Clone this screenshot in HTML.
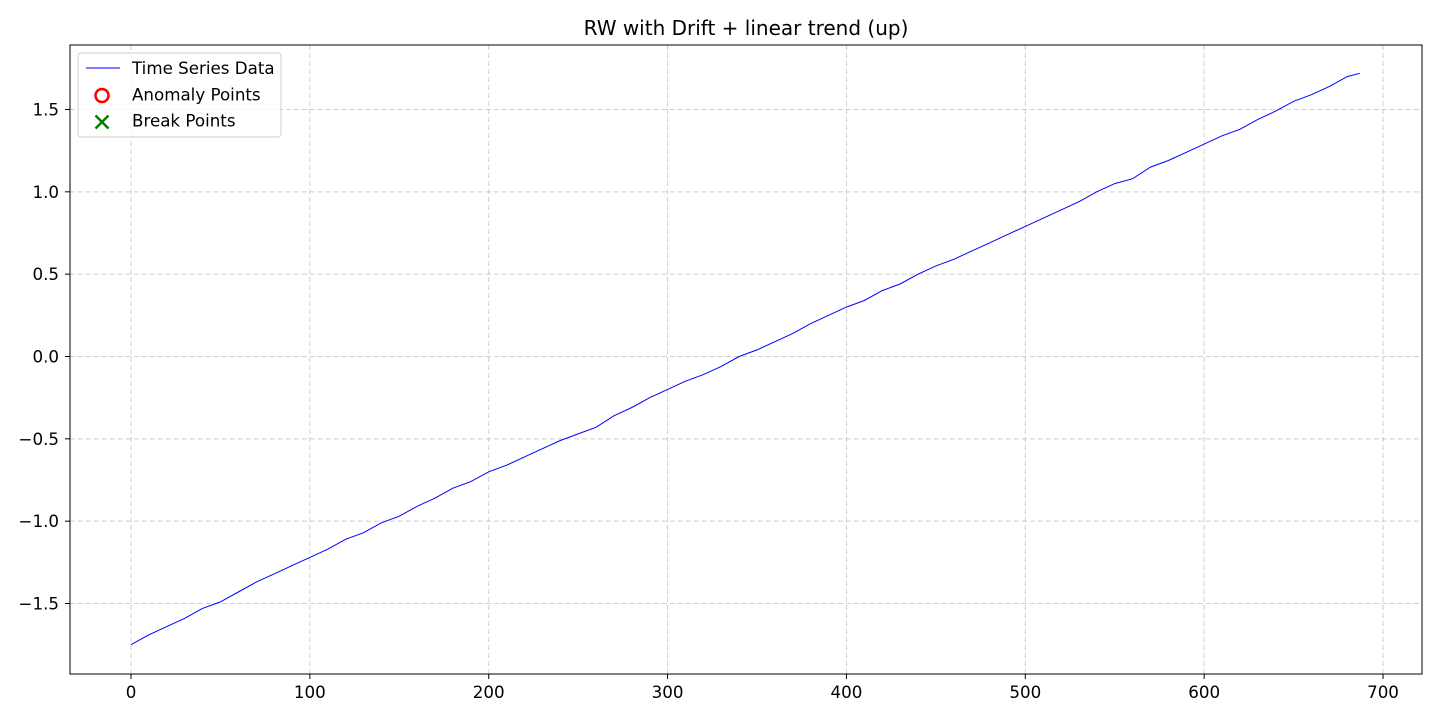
<!DOCTYPE html>
<html><head><meta charset="utf-8"><style>
html,body{margin:0;padding:0;background:#fff;}
svg{display:block;font-family:"DejaVu Sans","Liberation Sans",sans-serif;}
</style></head><body>
<svg id="chart" width="1440" height="720" viewBox="0 0 1440 720">
<rect x="0" y="0" width="1440" height="720" fill="#fff"/>
<text x="746" y="35" font-size="20" text-anchor="middle" fill="#000">RW with Drift + linear trend (up)</text>
<g id="grid"></g>
<g id="series"></g>
<rect x="70" y="45" width="1352" height="629" fill="none" stroke="#000" stroke-width="1"/>
<g id="axes"></g>
<g>
<rect x="78" y="53" width="203" height="84" rx="3" fill="#fff" fill-opacity="0.8" stroke="#ccc"/>
<g><line x1="86" y1="68" x2="120" y2="68" stroke="#0000ff" stroke-width="1"/><text x="132" y="74" font-size="16.7">Time Series Data</text></g>
<g><circle cx="102" cy="95.5" r="6.5" fill="none" stroke="#ff0000" stroke-width="2.5"/><text x="132" y="100.5" font-size="16.7">Anomaly Points</text></g>
<g><path d="M95.5 115.5 L108.5 128.5 M108.5 115.5 L95.5 128.5" stroke="#008000" stroke-width="2.5"/><text x="132" y="126.5" font-size="16.7">Break Points</text></g>
</g>
</svg>
<script>
const xValues = [0,10,20,30,40,50,60,70,80,90,100,110,120,130,140,150,160,170,180,190,200,210,220,230,240,250,260,270,280,290,300,310,320,330,340,350,360,370,380,390,400,410,420,430,440,450,460,470,480,490,500,510,520,530,540,550,560,570,580,590,600,610,620,630,640,650,660,670,680,687];
const yValues = [-1.75,-1.69,-1.64,-1.59,-1.53,-1.49,-1.43,-1.37,-1.32,-1.27,-1.22,-1.17,-1.11,-1.07,-1.01,-0.97,-0.91,-0.86,-0.80,-0.76,-0.70,-0.66,-0.61,-0.56,-0.51,-0.47,-0.43,-0.36,-0.31,-0.25,-0.20,-0.15,-0.11,-0.06,0.00,0.04,0.09,0.14,0.20,0.25,0.30,0.34,0.40,0.44,0.50,0.55,0.59,0.64,0.69,0.74,0.79,0.84,0.89,0.94,1.00,1.05,1.08,1.15,1.19,1.24,1.29,1.34,1.38,1.44,1.49,1.55,1.59,1.64,1.70,1.72];
const xTicks = [0,100,200,300,400,500,600,700];
const yTicks = [-1.5,-1.0,-0.5,0.0,0.5,1.0,1.5];
const yTickLabels = ["\u22121.5","\u22121.0","\u22120.5","0.0","0.5","1.0","1.5"];

const NS="http://www.w3.org/2000/svg";
function sx(v){return 131 + v*1.7886;}
function sy(v){return 356.5 - v*164.67;}
function mk(tag,attrs,parent){const e=document.createElementNS(NS,tag);for(const k in attrs)e.setAttribute(k,attrs[k]);parent.appendChild(e);return e;}
const grid=document.getElementById('grid'),axes=document.getElementById('axes'),series=document.getElementById('series');
xTicks.forEach(t=>{
  const x=sx(t);
  const g=mk('line',{x1:x,y1:45,x2:x,y2:674,stroke:'#b0b0b0','stroke-opacity':0.6,'stroke-dasharray':'5,3','stroke-width':1},grid);
  
  
  const tk=mk('line',{x1:x,y1:674,x2:x,y2:679,stroke:'#000'},axes);
  
  
  const tx=mk('text',{x:x,y:698,'font-size':16.7,'text-anchor':'middle'},axes);
  tx.textContent=String(t);
  
  
});
yTicks.forEach((t,i)=>{
  const y=sy(t);
  const g=mk('line',{x1:70,y1:y,x2:1422,y2:y,stroke:'#b0b0b0','stroke-opacity':0.6,'stroke-dasharray':'5,3','stroke-width':1},grid);
  
  
  const tk=mk('line',{x1:65,y1:y,x2:70,y2:y,stroke:'#000'},axes);
  
  
  const tx=mk('text',{x:59,y:y+6,'font-size':16.7,'text-anchor':'end'},axes);
  tx.textContent=yTickLabels[i];
  
  
});
const pts=xValues.map((x,i)=>sx(x).toFixed(1)+','+sy(yValues[i]).toFixed(1)).join(' ');
const pl=mk('polyline',{points:pts,fill:'none',stroke:'#0000ff','stroke-width':1},series);


</script>
</body></html>
